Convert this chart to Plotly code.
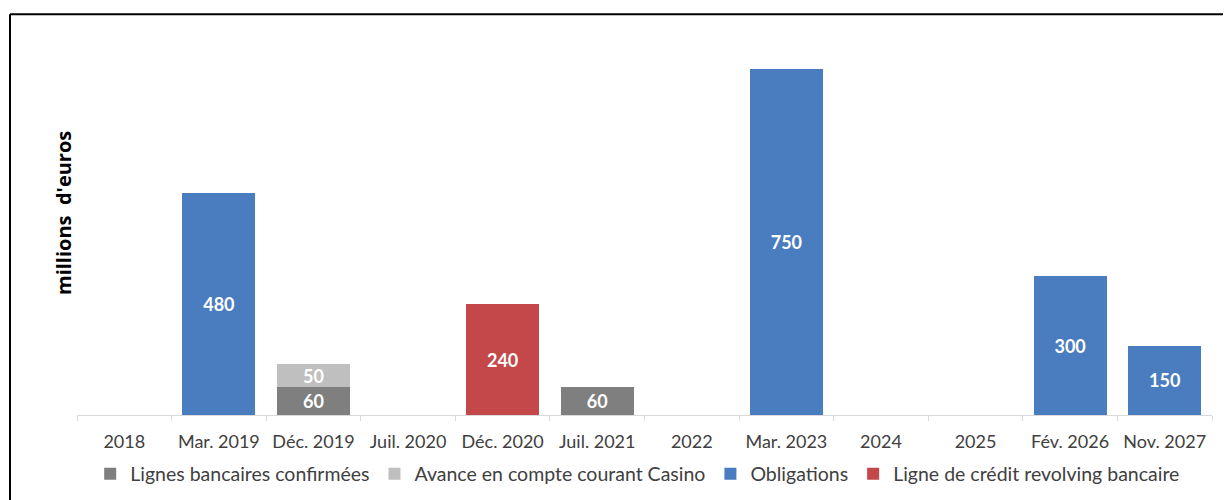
import plotly.graph_objects as go

categories = ["2018", "Mar. 2019", "Déc. 2019", "Juil. 2020", "Déc. 2020", "Juil. 2021",
              "2022", "Mar. 2023", "2024", "2025", "Fév. 2026", "Nov. 2027"]
lignes_bancaires = [None, None, 60, None, None, 60, None, None, None, None, None, None]
avance_casino = [None, None, 50, None, None, None, None, None, None, None, None, None]
obligations = [None, 480, None, None, None, None, None, 750, None, None, 300, 150]
credit_revolving = [None, None, None, None, 240, None, None, None, None, None, None, None]

series = [
    ("Lignes bancaires confirmées", lignes_bancaires, "#7F7F7F"),
    ("Avance en compte courant Casino", avance_casino, "#BFBFBF"),
    ("Obligations", obligations, "#4A7CC0"),
    ("Ligne de crédit revolving bancaire", credit_revolving, "#C4484A"),
]

fig = go.Figure()
for name, vals, color in series:
    fig.add_trace(go.Bar(
        x=categories, y=vals, name=name,
        marker=dict(color=color, line=dict(width=0)),
        texttemplate="%{y}", textposition="inside", insidetextanchor="middle",
        textangle=0,
        textfont=dict(family="Lato", size=18, color="white", weight="bold"),
        constraintext="none",
    ))

fig.update_layout(
    width=1223, height=492,
    barmode="stack", bargap=0.228,
    paper_bgcolor="white", plot_bgcolor="white",
    margin=dict(l=69, r=19, t=12, b=85, autoexpand=False),
    showlegend=True,
    legend=dict(orientation="h", x=0.494, xanchor="center",
                yref="container", y=1 - 466 / 492, yanchor="middle",
                traceorder="normal",
                font=dict(family="Lato", size=19.5, color="#404040"),
                itemwidth=30, tracegroupgap=0),
    xaxis=dict(type="category", showline=True, linecolor="#D9D9D9", linewidth=1,
               ticks="outside", tickson="boundaries", ticklen=5, tickcolor="#D9D9D9",
               tickfont=dict(family="Lato", size=18, color="#404040"),
               ticklabelstandoff=10, showgrid=False, zeroline=False, automargin=False),
    yaxis=dict(range=[0, 855], showticklabels=False, showgrid=False, zeroline=False,
               showline=False, ticks="", automargin=False),
    annotations=[dict(text="millions  d'euros", textangle=-90, xref="paper", yref="paper",
                      x=0, xshift=-14, y=(415 - 213) / 395, xanchor="center", yanchor="middle",
                      showarrow=False,
                      font=dict(family="Open Sans", size=20, color="black", weight="bold"))],
    shapes=[
        dict(type="line", xref="paper", yref="paper", x0=-0.05903, x1=1.03, y0=1.0144, y1=1.0144,
             line=dict(color="black", width=2)),
        dict(type="line", xref="paper", yref="paper", x0=-0.05903, x1=-0.05903, y0=1.0144, y1=-0.3,
             line=dict(color="black", width=2)),
    ],
)

fig.write_html("out.html")
